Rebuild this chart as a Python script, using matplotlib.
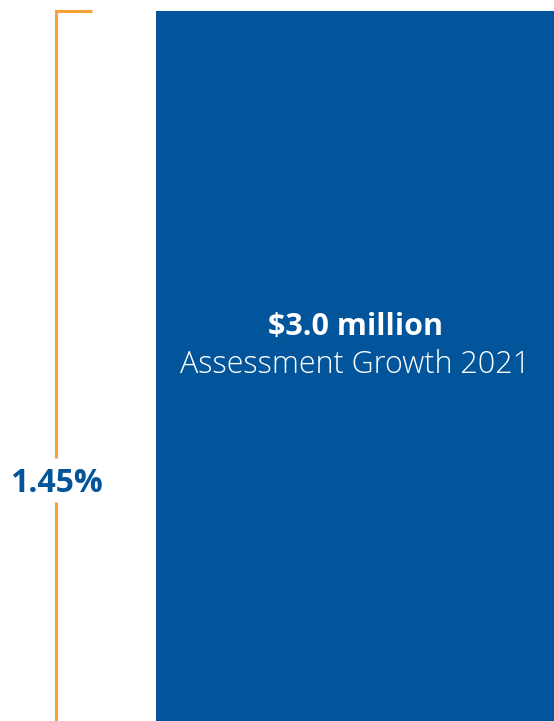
import matplotlib.pyplot as plt

# values shown in the graphic
growth_amount = 3.0          # $ million
growth_pct = 1.45            # percent
amount_label = "$3.0 million"
caption = "Assessment Growth 2021"

BLUE = "#02559A"
ORANGE = "#F7A035"

W, H = 554, 721
fig = plt.figure(figsize=(W / 100, H / 100), dpi=100)
ax = fig.add_axes([0, 0, 1, 1])
ax.set_axis_off()

# y axis scaled so the bar top sits just under the upper edge
top = growth_amount * H / 710
ax.set_xlim(0, W)
ax.set_ylim(0, top)

# the bar
ax.bar(355, growth_amount, width=398, color=BLUE, align="center", zorder=2)

# orange bracket spanning the bar height, broken around the label
px = top / H  # data units per pixel
label_y = growth_amount * 0.3394
gap = 22 * px
ax.plot([56, 56], [0, label_y - gap], color=ORANGE, lw=2.2, solid_capstyle="butt")
ax.plot([56, 56, 92], [label_y + gap, growth_amount, growth_amount],
        color=ORANGE, lw=2.2, solid_capstyle="butt", solid_joinstyle="miter")
ax.text(56, label_y - 12 * px, f"{growth_pct:.2f}%", color=BLUE,
        fontsize=23, fontweight="bold", family="Open Sans",
        ha="center", va="baseline")

# labels inside the bar
ax.text(355, growth_amount - 324 * px, amount_label, color="white",
        fontsize=22, fontweight="bold", family="Open Sans",
        ha="center", va="baseline", zorder=3)
ax.text(355, growth_amount - 362 * px, caption, color="white",
        fontsize=22, fontweight="light", family="Open Sans",
        ha="center", va="baseline", zorder=3)

fig.savefig("out.png", dpi=100, facecolor="white")
